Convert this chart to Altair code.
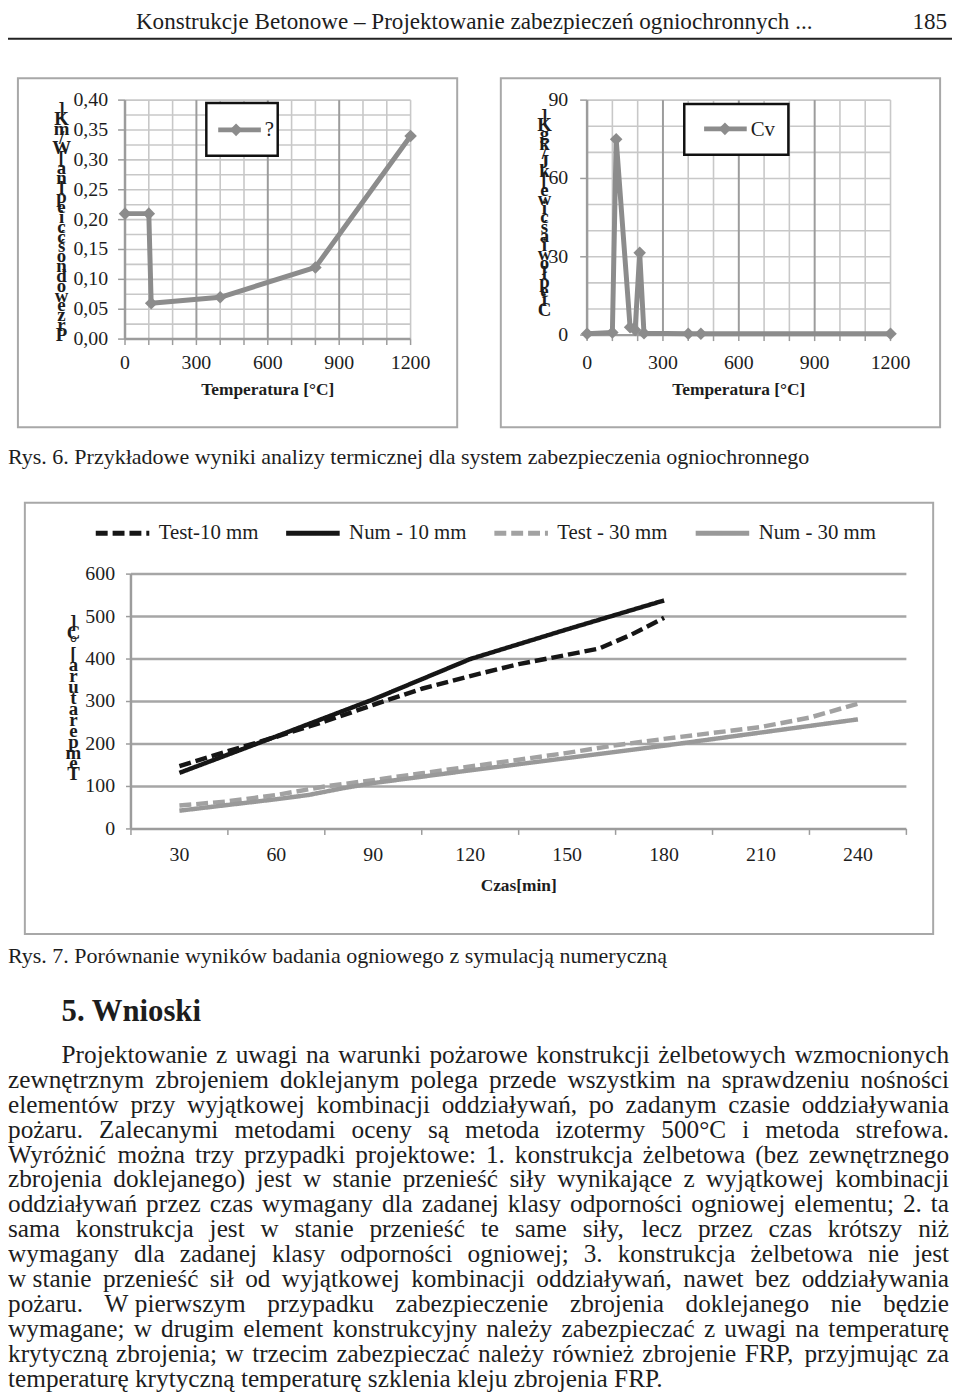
import altair as alt
import pandas as pd

W, H = 952, 1392
SERIF = "Liberation Serif"
INK = "#1d1d1d"
GRAY_LINE = "#8c8c8c"
GRID_MINOR = "#c8c8c8"
GRID_MAJOR = "#9c9c9c"
FRAME = "#a8a8a8"

# ---------------- page text ----------------
header_title = "Konstrukcje Betonowe – Projektowanie zabezpieczeń ogniochronnych ..."
page_number = "185"
caption_6 = "Rys. 6. Przykładowe wyniki analizy termicznej dla system zabezpieczenia ogniochronnego"
caption_7 = "Rys. 7. Porównanie wyników badania ogniowego z symulacją numeryczną"
heading = "5. Wnioski"
paragraph_lines = [
    "Projektowanie z uwagi na warunki pożarowe konstrukcji żelbetowych wzmocnionych",
    "zewnętrznym zbrojeniem doklejanym polega przede wszystkim na sprawdzeniu nośności",
    "elementów przy wyjątkowej kombinacji oddziaływań, po zadanym czasie oddziaływania",
    "pożaru. Zalecanymi metodami oceny są metoda izotermy 500°C i metoda strefowa.",
    "Wyróżnić można trzy przypadki projektowe: 1. konstrukcja żelbetowa (bez zewnętrznego",
    "zbrojenia doklejanego) jest w stanie przenieść siły wynikające z wyjątkowej kombinacji",
    "oddziaływań przez czas wymagany dla zadanej klasy odporności ogniowej elementu; 2. ta",
    "sama konstrukcja jest w stanie przenieść te same siły, lecz przez czas krótszy niż",
    "wymagany dla zadanej klasy odporności ogniowej; 3. konstrukcja żelbetowa nie jest",
    "w\u00a0stanie przenieść sił od wyjątkowej kombinacji oddziaływań, nawet bez oddziaływania",
    "pożaru. W\u00a0pierwszym przypadku zabezpieczenie zbrojenia doklejanego nie będzie",
    "wymagane; w drugim element konstrukcyjny należy zabezpieczać z uwagi na temperaturę",
    "krytyczną zbrojenia; w trzecim zabezpieczać należy również zbrojenie FRP, przyjmując za",
    "temperaturę krytyczną temperaturę szklenia kleju zbrojenia FRP.",
]

# ---------------- Fig. 6 left: conductivity ----------------
lam_temp = [0, 100, 110, 400, 800, 1200]
lam_value = [0.21, 0.21, 0.06, 0.07, 0.12, 0.34]
lam_legend = "?"
lam_axis_title = "]Km/W[ anlpeic ćśondowezrP"   # garbled vertical title as printed
small_x_ticks = [0, 300, 600, 900, 1200]
small_x_labels = ["0", "300", "600", "900", "1200"]
small_x_minor = [100, 200, 400, 500, 700, 800, 1000, 1100, 1200]
small_x_major = [300, 600, 900]
small_x_tickmarks = [0, 100, 200, 300, 400, 500, 600, 700, 800, 900, 1000, 1100, 1200]
lam_y_ticks = [0.0, 0.05, 0.10, 0.15, 0.20, 0.25, 0.30, 0.35, 0.40]
lam_y_labels = ["0,00", "0,05", "0,10", "0,15", "0,20", "0,25", "0,30", "0,35", "0,40"]
lam_y_grid = [0.025, 0.05, 0.075, 0.10, 0.125, 0.15, 0.175, 0.20, 0.225, 0.25,
              0.275, 0.30, 0.325, 0.35, 0.375, 0.40]

# ---------------- Fig. 6 right: specific heat ----------------
cv_temp = [0, 100, 115, 170, 190, 208, 225, 400, 450, 1200]
cv_value = [0.5, 1.0, 75.0, 3.0, 2.0, 31.5, 0.7, 0.5, 0.5, 0.5]
cv_legend = "Cv"
cv_axis_title = "]Kgk/Jk[ ewicśaiw ołpeiC"
cv_y_ticks = [0, 30, 60, 90]
cv_y_labels = ["0", "30", "60", "90"]
cv_y_grid = [10, 20, 30, 40, 50, 60, 70, 80, 90]
temp_title = "Temperatura [°C]"

# ---------------- Fig. 7 ----------------
series = ["Test-10 mm", "Num - 10 mm", "Test - 30 mm", "Num - 30 mm"]
test10_t = [30, 45, 60, 75, 90, 95, 105, 120, 135, 150, 160, 170, 180]
test10_v = [148, 183, 217, 253, 292, 305, 330, 360, 388, 410, 425, 458, 497]
num10_t = [30, 60, 90, 120, 150, 180]
num10_v = [132, 218, 305, 400, 470, 538]
test30_t = [30, 45, 60, 75, 90, 105, 120, 135, 150, 165, 180, 195, 210, 225, 240]
test30_v = [55, 65, 80, 100, 115, 131, 147, 163, 179, 197, 212, 226, 240, 262, 295]
num30_t = [30, 60, 70, 80, 90, 120, 150, 180, 210, 240]
num30_v = [43, 70, 80, 95, 108, 138, 167, 196, 227, 258]
time_labels = [30, 60, 90, 120, 150, 180, 210, 240]
time_bounds = [15, 45, 75, 105, 135, 165, 195, 225, 255]
temp_ticks = [0, 100, 200, 300, 400, 500, 600]
temp_grid = [100, 200, 300, 400, 500, 600]
time_title = "Czas[min]"
fig7_axis_title = "]C°[ arutarepmeT"

# ---------------- text metrics (Times / Liberation Serif, per 1000 em) ----------------
TW = {' ': 250, '\u00a0': 250, 'a': 444, 'b': 500, 'c': 444, 'd': 500, 'e': 444, 'f': 333, 'g': 500,
      'h': 500, 'i': 278, 'j': 278, 'k': 500, 'l': 278, 'm': 778, 'n': 500, 'o': 500, 'p': 500,
      'q': 500, 'r': 333, 's': 389, 't': 278, 'u': 500, 'v': 500, 'w': 722, 'x': 500, 'y': 500,
      'z': 444, 'A': 722, 'B': 667, 'C': 667, 'D': 722, 'E': 611, 'F': 556, 'G': 722, 'H': 722,
      'I': 333, 'J': 389, 'K': 722, 'L': 611, 'M': 889, 'N': 722, 'O': 722, 'P': 556, 'Q': 722,
      'R': 667, 'S': 556, 'T': 611, 'U': 722, 'V': 722, 'W': 944, 'X': 722, 'Y': 722, 'Z': 611,
      '.': 250, ',': 250, ';': 278, ':': 278, '(': 333, ')': 333, '-': 333, '°': 400, '–': 500,
      'ą': 444, 'ć': 444, 'ę': 444, 'ł': 278, 'ń': 500, 'ó': 500, 'ś': 389, 'ź': 444, 'ż': 444}


def text_width(s, size):
    return sum(TW.get(ch, 500) for ch in s) / 1000.0 * size


# ---------------- layout (pixels inside the chart) ----------------
PARA_FS = 25.5
PARA_LEFT, PARA_INDENT, PARA_RIGHT = 0, 54, 949
PARA_BASE, PARA_STEP = 1058, 25.1

words_left, words_right = [], []
for i, line in enumerate(paragraph_lines):
    left = PARA_INDENT if i == 0 else PARA_LEFT
    yb = PARA_BASE + PARA_STEP * i
    if i == len(paragraph_lines) - 1:
        words_left.append({"x": left, "y": yb, "t": line})
        continue
    words = line.split(" ")
    widths = [text_width(w, PARA_FS) for w in words]
    gap = (PARA_RIGHT - left - sum(widths)) / (len(words) - 1)
    x = left
    for j, (w, wd) in enumerate(zip(words, widths)):
        if j == len(words) - 1:
            words_right.append({"x": PARA_RIGHT, "y": yb, "t": w})
        else:
            words_left.append({"x": x, "y": yb, "t": w})
        x += wd + gap


def px_enc():
    return dict(x=alt.X("x:Q", scale=None, axis=None), y=alt.Y("y:Q", scale=None, axis=None))


def text_layer(rows, size, align="left", weight="normal", baseline="alphabetic", **kw):
    return alt.Chart(pd.DataFrame(rows)).mark_text(
        align=align, baseline=baseline, font=SERIF, fontSize=size,
        fontWeight=weight, color=INK, **kw
    ).encode(text="t:N", **px_enc())


texts = [
    text_layer([{"x": 129, "y": 15, "t": header_title}], 23.3),
    text_layer([{"x": 947, "y": 15, "t": page_number}], 23.3, align="right"),
    text_layer([{"x": 0, "y": 454, "t": caption_6}, {"x": 0, "y": 957, "t": caption_7}], 22.2),
    text_layer([{"x": 54, "y": 1016, "t": heading}], 31, weight="bold"),
    text_layer(words_left, PARA_FS),
    text_layer(words_right, PARA_FS, align="right"),
    text_layer([{"x": 262, "y": 379, "t": temp_title}, {"x": 737, "y": 379, "t": temp_title},
                {"x": 515, "y": 880, "t": time_title}], 17.5, align="center", weight="bold",
               baseline="middle"),
]


def stacked_title(s, x, y, lh):
    return alt.Chart(pd.DataFrame([{"x": x, "y": y, "t": "\n".join(s)}])).mark_text(
        align="center", baseline="top", font=SERIF, fontSize=19, fontWeight="bold",
        color=INK, lineBreak="\n", lineHeight=lh).encode(text="t:N", **px_enc())


stacked = [
    stacked_title(lam_axis_title, 54, 87, 9.9),
    stacked_title(cv_axis_title, 541, 94, 9.3),
    stacked_title(fig7_axis_title, 66, 604, 11.0),
]

# frames and header rule
frames = alt.Chart(pd.DataFrame([
    {"x": 10, "x2": 453, "y": 65, "y2": 417},
    {"x": 497, "x2": 940, "y": 65, "y2": 417},
    {"x": 17, "x2": 933, "y": 493, "y2": 928},
])).mark_rect(filled=False, stroke=FRAME, strokeWidth=2).encode(
    x2="x2:Q", y2="y2:Q", **px_enc())
header_rule = alt.Chart(pd.DataFrame([{"x": 0, "x2": W, "y": 25}])).mark_rule(
    color="#222222", strokeWidth=2).encode(x2="x2:Q", **px_enc())


# ---------------- helpers for charts ----------------
def vgrid(values, lo, hi, scx, scy, color, width):
    df = pd.DataFrame({"g": values, "lo": [lo] * len(values), "hi": [hi] * len(values)})
    return alt.Chart(df).mark_rule(color=color, strokeWidth=width).encode(
        x=alt.X("g:Q", scale=scx, axis=None),
        y=alt.Y("lo:Q", scale=scy, axis=None), y2="hi:Q")


def hgrid(values, lo, hi, scx, scy, color, width):
    df = pd.DataFrame({"g": values, "lo": [lo] * len(values), "hi": [hi] * len(values)})
    return alt.Chart(df).mark_rule(color=color, strokeWidth=width).encode(
        y=alt.Y("g:Q", scale=scy, axis=None),
        x=alt.X("lo:Q", scale=scx, axis=None), x2="hi:Q")


def x_ticks(values, scx, y0, size):
    return alt.Chart(pd.DataFrame({"v": values})).mark_rule(
        color=GRID_MAJOR, strokeWidth=1.5).encode(
        x=alt.X("v:Q", scale=scx, axis=None), y=alt.value(y0), y2=alt.value(y0 + size))


def y_ticks(values, scy, x0, size):
    return alt.Chart(pd.DataFrame({"v": values})).mark_rule(
        color=GRID_MAJOR, strokeWidth=1.5).encode(
        y=alt.Y("v:Q", scale=scy, axis=None), x=alt.value(x0 - size), x2=alt.value(x0))


def x_labels(values, labels, scx, ypix, size=20):
    return alt.Chart(pd.DataFrame({"v": values, "lab": labels})).mark_text(
        align="center", baseline="middle", font=SERIF, fontSize=size, color=INK).encode(
        x=alt.X("v:Q", scale=scx, axis=None), y=alt.value(ypix), text="lab:N")


def y_labels(values, labels, scy, xpix, size=20):
    return alt.Chart(pd.DataFrame({"v": values, "lab": labels})).mark_text(
        align="right", baseline="middle", font=SERIF, fontSize=size, color=INK).encode(
        y=alt.Y("v:Q", scale=scy, axis=None), x=alt.value(xpix), text="lab:N")


def small_chart(temps, vals, scx, scy, ymax, ygrid, yt, ylab, x_axis_px, y_axis_px, ylab_x):
    df = pd.DataFrame({"t": temps, "v": vals})
    line = alt.Chart(df).mark_line(color=GRAY_LINE, strokeWidth=5, strokeJoin="round").encode(
        x=alt.X("t:Q", scale=scx, axis=None), y=alt.Y("v:Q", scale=scy, axis=None))
    pts = alt.Chart(df).mark_point(shape="diamond", filled=True, size=160, color=GRAY_LINE,
                                   opacity=1).encode(
        x=alt.X("t:Q", scale=scx, axis=None), y=alt.Y("v:Q", scale=scy, axis=None))
    return alt.layer(
        vgrid(small_x_minor, 0, ymax, scx, scy, GRID_MINOR, 1.6),
        hgrid(ygrid, 0, 1200, scx, scy, GRID_MINOR, 1.6),
        vgrid(small_x_major, 0, ymax, scx, scy, GRID_MAJOR, 2),
        vgrid([0], 0, ymax, scx, scy, GRID_MAJOR, 2.5),
        hgrid([0], 0, 1200, scx, scy, GRID_MAJOR, 2.5),
        x_ticks(small_x_tickmarks, scx, x_axis_px, 6),
        y_ticks(yt, scy, y_axis_px, 7),
        x_labels(small_x_ticks, small_x_labels, scx, 352),
        y_labels(yt, ylab, scy, ylab_x),
        line, pts)


# left chart
scAx = alt.Scale(domain=[0, 1200], range=[118, 406], nice=False, zero=False)
scAy = alt.Scale(domain=[0, 0.4], range=[328, 87], nice=False, zero=False)
chartA = small_chart(lam_temp, lam_value, scAx, scAy, 0.4, lam_y_grid, lam_y_ticks,
                     lam_y_labels, 328, 118, 101)

# right chart
scBx = alt.Scale(domain=[0, 1200], range=[584, 890], nice=False, zero=False)
scBy = alt.Scale(domain=[0, 90], range=[324, 87], nice=False, zero=False)
chartB = small_chart(cv_temp, cv_value, scBx, scBy, 90, cv_y_grid, cv_y_ticks,
                     cv_y_labels, 324, 584, 565)

# legends of the small charts
leg_boxes = alt.Chart(pd.DataFrame([
    {"x": 200, "x2": 272, "y": 90, "y2": 143},
    {"x": 682, "x2": 787, "y": 91, "y2": 142},
])).mark_rect(fill="white", stroke="#111111", strokeWidth=2.5).encode(
    x2="x2:Q", y2="y2:Q", **px_enc())
leg_lines = alt.Chart(pd.DataFrame([
    {"x": 212, "x2": 255, "y": 117},
    {"x": 702, "x2": 745, "y": 116},
])).mark_rule(color=GRAY_LINE, strokeWidth=5).encode(x2="x2:Q", **px_enc())
leg_pts = alt.Chart(pd.DataFrame([
    {"x": 230, "y": 117}, {"x": 723, "y": 116},
])).mark_point(shape="diamond", filled=True, size=160, color=GRAY_LINE, opacity=1).encode(
    **px_enc())
leg_txt = text_layer([{"x": 259, "y": 117, "t": lam_legend}, {"x": 749, "y": 117, "t": cv_legend}],
                     21, baseline="middle")

# ---------------- Fig. 7 chart ----------------
rows = []
for name, ts, vs in zip(series, [test10_t, num10_t, test30_t, num30_t],
                        [test10_v, num10_v, test30_v, num30_v]):
    for t, v in zip(ts, vs):
        rows.append({"s": name, "t": t, "v": v})
df7 = pd.DataFrame(rows)

scCx = alt.Scale(domain=[15, 255], range=[124, 906], nice=False, zero=False)
scCy = alt.Scale(domain=[0, 600], range=[822, 565], nice=False, zero=False)
leg7 = alt.Legend(orient="none", legendX=86, legendY=494, direction="horizontal", title=None,
                  symbolType="stroke", symbolSize=2916, symbolStrokeWidth=5, labelFont=SERIF,
                  labelFontSize=21, labelColor=INK, columnPadding=17, labelOffset=7, padding=0)
lines7 = alt.Chart(df7).mark_line(strokeWidth=4.5, strokeJoin="round").encode(
    x=alt.X("t:Q", scale=scCx, axis=None),
    y=alt.Y("v:Q", scale=scCy, axis=None),
    color=alt.Color("s:N", scale=alt.Scale(domain=series,
                                           range=["#161616", "#161616", "#a2a2a2", "#999999"]),
                    legend=leg7),
    strokeDash=alt.StrokeDash("s:N", scale=alt.Scale(domain=series,
                                                     range=[[12, 5], [1, 0], [12, 5], [1, 0]]),
                              legend=leg7),
)
chartC = alt.layer(
    hgrid(temp_grid, 15, 255, scCx, scCy, "#a6a6a6", 2.5),
    vgrid([15], 0, 600, scCx, scCy, GRID_MAJOR, 2.5),
    hgrid([0], 15, 255, scCx, scCy, GRID_MAJOR, 2.5),
    x_ticks(time_bounds, scCx, 822, 6),
    y_ticks(temp_ticks, scCy, 124, 5),
    x_labels(time_labels, [str(v) for v in time_labels], scCx, 848),
    y_labels(temp_ticks, [str(v) for v in temp_ticks], scCy, 108),
    lines7,
)

chart = alt.layer(
    frames, header_rule, *texts, *stacked,
    chartA, chartB, chartC,
    leg_boxes, leg_lines, leg_pts, leg_txt,
).resolve_scale(x="independent", y="independent").properties(
    width=W, height=H, autosize=alt.AutoSizeParams(type="none"), padding=0,
    background="white"
).configure_view(stroke=None)

chart.save("out.html", embed_options={"renderer": "svg", "actions": False})
